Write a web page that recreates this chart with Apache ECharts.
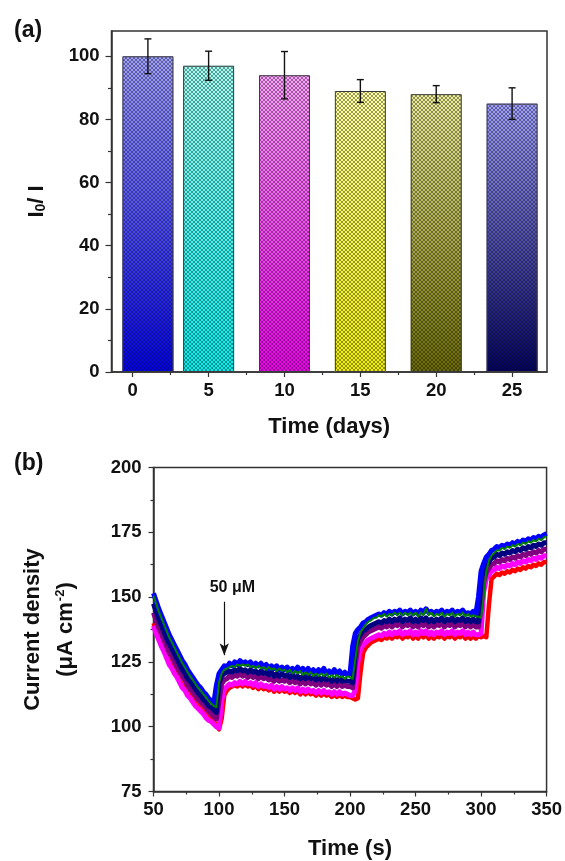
<!DOCTYPE html>
<html>
<head>
<meta charset="utf-8">
<script src="https://cdn.jsdelivr.net/npm/echarts@6/dist/echarts.min.js"></script>
<style>
  html, body { margin: 0; padding: 0; background: #fff; }
  #main { width: 565px; height: 861px; }
</style>
</head>
<body>
<div id="main"></div>
<script>
// ---- (a) 稳定性柱状图数据 ----
const dayPositions = [1, 5, 10, 15, 20, 25];
const ratioValues = [100, 97, 94, 89, 88, 85];
const ratioErrors = [5.5, 4.6, 7.5, 3.6, 2.7, 5.0];
const barTopColors = ['#a0a0ff', '#a0fff4', '#ffa0ff', '#ffffa0', '#eeee98', '#a0a0ff'];
const barBottomColors = ['#0000f0', '#00f0f0', '#f000f0', '#f0f000', '#6a6a00', '#000060'];
const dayTicks = [0, 5, 10, 15, 20, 25];
const dayMinorTicks = [2.5, 7.5, 12.5, 17.5, 22.5];
const ratioTicks = [0, 20, 40, 60, 80, 100];
const ratioMinorTicks = [10, 30, 50, 70, 90];

// ---- (b) 电流-时间曲线, 每 2 s 一个点, 50..350 s ----
const timeStart = 50;
const timeStep = 2;
const blueTrace = [
  151.5, 148.5, 145.5, 143, 140.5, 138, 135.5, 133.5, 131.5, 129.5, 127.5, 125.5, 124, 122, 120.5, 119, 117.5, 116, 115, 113.5, 112.5, 111, 110, 109, 116,
  120.5, 122, 123.5, 123, 124.5, 123.5, 125, 124, 125.5, 124.5, 125, 124, 125, 123.5, 124.5, 123.5, 124.5, 123, 124, 122.5, 123.5, 122.5, 123.5, 122, 123,
  122, 123, 121.5, 122.5, 121.5, 123, 121.5, 122.5, 121, 122.5, 121, 122, 120.5, 122, 121, 122.5, 120.5, 121.5, 120.5, 122, 120.5, 121.5, 120, 121, 120,
  120.5, 131, 136, 137.5, 138.5, 140, 140.5, 141.5, 142, 142.5, 143, 143.5, 143, 144, 143.5, 144.5, 143.5, 144.5, 144, 145, 143.5, 144.5, 144, 145, 143.5,
  144.5, 143.5, 145, 144, 145.5, 144, 144.5, 143.5, 144.5, 144, 145, 143.5, 144.5, 144, 145, 143.5, 144.5, 144, 145, 143.5, 144, 143.5, 144.5, 143.5,
  150, 160, 163, 165.5, 166.5, 168, 168.5, 169.5, 169, 170, 169.5, 170.5, 170, 171, 170.5, 171.5, 171, 172, 171.5, 172.5, 172, 173, 172.5, 173.5, 173, 174, 174.5
];
const greenTrace = [
  150.5, 147.5, 144.5, 142, 139.5, 137, 134.5, 132.5, 130.5, 128.5, 126.5, 124.5, 123, 121, 119.5, 118, 116.5, 115, 114, 112.5, 111.5, 110, 109, 108, 107.5,
  117, 120.5, 122, 122.5, 123, 123.5, 123, 124, 123.5, 124, 123.5, 124, 123, 123.5, 122.5, 123.5, 122.5, 123, 122, 123, 122, 122.5, 121.5, 122.5, 121.5,
  122, 121, 122, 120.5, 121.5, 120.5, 121.5, 120, 121, 120, 121, 119.5, 120.5, 119.5, 120.5, 119.5, 120.5, 119, 120, 119, 120, 119, 119.5, 118.5, 119.5,
  119, 118.5, 126, 133, 136.5, 138, 139.5, 140.5, 141, 142, 142, 143, 142.5, 143.5, 142.5, 143.5, 143, 144, 143, 144, 143, 144, 143, 144, 143,
  144, 142.5, 144, 143, 145.5, 143, 144, 142.5, 143.5, 143, 144, 142.5, 143.5, 143, 144, 142.5, 143.5, 143, 144, 142.5, 143.5, 142.5, 143, 142.5,
  142.5, 142, 150, 160, 164, 166, 167, 168, 168, 169, 168.5, 169.5, 169, 170, 169.5, 170.5, 170, 171, 170.5, 171.5, 171, 172, 171.5, 172.5, 172, 173, 173.5
];
const navyTrace = [
  147.5, 144.5, 141.5, 139, 136.5, 134, 132, 130, 128, 126, 124, 122, 120.5, 118.5, 117.5, 116, 114.5, 113, 112, 110.5, 109.5, 108, 107.5, 106.5, 105.5,
  117, 119.5, 120.5, 121, 121.5, 121, 122, 121.5, 122.5, 121.5, 122, 121, 122, 121, 121.5, 120.5, 121.5, 120.5, 121, 120, 121, 119.5, 120.5, 119.5, 120.5,
  119.5, 120, 119, 120, 119, 119.5, 118.5, 119.5, 118.5, 119.5, 118.5, 119, 118, 119, 118, 119, 118, 118.5, 117.5, 118.5, 117.5, 118.5, 117.5, 118, 117.5,
  117.5, 117, 130, 134, 135.5, 137, 137.5, 138.5, 139, 139.5, 140, 140.5, 140, 141, 140.5, 141.5, 140.5, 141.5, 141, 142, 140.5, 141.5, 141, 142, 140.5,
  141.5, 140.5, 142, 141, 142, 140.5, 141.5, 140.5, 141.5, 141, 142, 140.5, 141.5, 141, 142, 140.5, 141.5, 141, 142, 140.5, 141.5, 140.5, 141.5, 140.5,
  140.5, 157, 160, 162.5, 163.5, 165, 165.5, 166.5, 166, 167, 166.5, 167.5, 167, 168, 167.5, 168.5, 168, 169, 168.5, 169.5, 169, 170, 169.5, 170.5, 170, 171, 171
];
const purpleTrace = [
  144, 141, 138, 136, 133.5, 131, 128.5, 127, 125, 123, 121, 119.5, 118, 116, 114.5, 113.5, 112, 110.5, 109.5, 108.5, 107.5, 106, 105, 104, 103,
  110, 116.5, 118, 118.5, 119.5, 119, 120, 119.5, 120.5, 119.5, 120, 119, 120, 119, 119.5, 118.5, 119.5, 118.5, 119, 118, 118.5, 117.5, 118.5, 117.5, 118,
  117.5, 118, 117, 118, 117, 117.5, 116.5, 117.5, 116.5, 117.5, 116.5, 117, 116, 117, 116, 117, 116, 116.5, 115.5, 116.5, 115.5, 116.5, 115.5, 116, 115.5,
  115.5, 115, 124, 131, 133, 134.5, 135.5, 136.5, 137, 137.5, 138, 138.5, 138, 139, 138.5, 139.5, 138.5, 139.5, 139, 140, 138.5, 139.5, 139, 140, 138.5,
  139.5, 138.5, 140, 139, 140, 138.5, 139.5, 138.5, 139.5, 139, 140, 138.5, 139.5, 139, 140, 138.5, 139.5, 139, 140, 138.5, 139.5, 138.5, 139.5, 138.5,
  138.5, 146, 156, 159.5, 161, 162.5, 163, 164, 163.5, 164.5, 164, 165, 164.5, 165.5, 165, 166, 165.5, 166.5, 166, 167, 166.5, 167.5, 167, 168, 167.5, 168.5, 168.5
];
const magentaTrace = [
  139, 136, 133.5, 131, 129, 126.5, 124, 122.5, 120.5, 119, 117, 115, 114, 112, 111, 109.5, 108, 107, 106, 105, 103.5, 102.5, 102, 101, 100,
  99.5, 110, 114.5, 115.5, 116.5, 116, 117, 116.5, 117.5, 116.5, 117.5, 116.5, 117, 116, 117, 115.5, 116.5, 115.5, 116, 115, 116, 114.5, 115.5, 114.5, 115.5,
  114.5, 115, 114, 115, 114, 115, 113.5, 114.5, 113.5, 114.5, 113.5, 114, 113, 114, 113, 114, 113, 113.5, 112.5, 113.5, 112.5, 113.5, 112.5, 113, 112.5,
  112, 112, 114, 125, 130, 131.5, 132.5, 133.5, 134, 134.5, 135, 135.5, 135, 136, 135.5, 136.5, 135.5, 136.5, 136, 137, 135.5, 136.5, 136, 137, 135.5,
  136.5, 135.5, 137, 136, 137, 135.5, 136.5, 135.5, 136.5, 136, 137, 135.5, 136.5, 136, 137, 135.5, 136.5, 136, 137, 135.5, 136.5, 135.5, 136.5, 135.5,
  135.5, 136, 152, 157, 158.5, 160, 160.5, 161.5, 161, 162, 161.5, 162.5, 162, 163, 162.5, 163.5, 163, 164, 163.5, 164.5, 164, 165, 164.5, 165.5, 165, 166, 166
];
const redTrace = [
  140, 137, 134.5, 132, 130, 127.5, 125, 123.5, 121.5, 120, 118, 116, 115, 113, 112, 110.5, 109, 108, 107, 106, 104.5, 103.5, 103, 102, 100.5,
  99, 103, 112, 114, 115, 115.5, 116, 115.5, 116.5, 115.5, 116.5, 115.5, 116, 115, 116, 114.5, 115.5, 114.5, 115, 114, 115, 113.5, 114.5, 113.5, 114.5,
  113.5, 114, 113, 114, 113, 114, 112.5, 113.5, 112.5, 113.5, 112.5, 113, 112, 113, 112, 113, 112, 112.5, 111.5, 112.5, 111.5, 112.5, 111.5, 112, 111.5,
  111.5, 111, 110.5, 111, 121, 128.5, 130.5, 131.5, 132.5, 133, 133.5, 134, 133.5, 134.5, 134, 135, 134, 135, 134.5, 135.5, 134, 135, 134.5, 135.5, 134,
  135, 134, 135.5, 134.5, 135.5, 134, 135, 134, 135, 134.5, 135.5, 134, 135, 134.5, 135.5, 134, 135, 134.5, 135.5, 134, 135, 134, 135, 134,
  135, 134.5, 135, 134.5, 147, 157, 158, 159, 158.5, 159.5, 159, 160, 159.5, 160.5, 160, 161, 160.5, 161.5, 161, 162, 161.5, 162.5, 162, 163, 162.5, 163.5, 163.5
];
// 绘制顺序: 先红后绿
const traces = [
  { data: redTrace, color: '#ff0000', width: 4.5 },
  { data: magentaTrace, color: '#ff00ff', width: 5 },
  { data: purpleTrace, color: '#800080', width: 5 },
  { data: navyTrace, color: '#000080', width: 5 },
  { data: blueTrace, color: '#0000ff', width: 5 },
  { data: greenTrace, color: '#008000', width: 2 },
];

const FONT = 'Liberation Sans, Arial, sans-serif';
const INK = '#111';
const FRAME = '#333';
const labelStyle = { fontFamily: FONT, fontWeight: 'bold', fontSize: 18.5, color: INK };
const titleStyle = { fontFamily: FONT, fontWeight: 'bold', fontSize: 22, color: INK };

// 交叉网纹贴图
function hatchPattern() {
  const c = document.createElement('canvas');
  c.width = 4;
  c.height = 4;
  const g = c.getContext('2d');
  g.fillStyle = 'rgba(15,15,15,0.42)';
  for (let i = 0; i < 4; i++) {
    g.fillRect(i, i, 1, 1);
    g.fillRect(3 - i, i, 1, 1);
  }
  return c;
}

function gradient(top, bottom) {
  return new echarts.graphic.LinearGradient(0, 0, 0, 1, [
    { offset: 0, color: top },
    { offset: 1, color: bottom },
  ]);
}

const chart = echarts.init(document.getElementById('main'), null, { renderer: 'canvas' });

const barData = dayPositions.map((d, i) => ({
  value: [d, ratioValues[i]],
  itemStyle: { color: gradient(barTopColors[i], barBottomColors[i]) },
}));
const hatchData = dayPositions.map((d, i) => [d, ratioValues[i]]);
const errorData = dayPositions.map((d, i) => [d, ratioValues[i], ratioErrors[i]]);

const lineSeries = traces.map((tr) => ({
  type: 'line',
  xAxisIndex: 1,
  yAxisIndex: 1,
  data: tr.data.map((v, i) => [timeStart + i * timeStep, v]),
  showSymbol: false,
  symbol: 'none',
  sampling: null,
  lineStyle: { color: tr.color, width: tr.width, join: 'round' },
  itemStyle: { color: tr.color },
  silent: true,
}));

// 箭头和 "50 μM" 标注
lineSeries[lineSeries.length - 1].markLine = {
  silent: true,
  symbol: ['none', 'arrow'],
  symbolSize: [7, 12],
  lineStyle: { color: INK, width: 1.2, type: 'solid' },
  label: { show: false },
  data: [[{ coord: [104, 148.2] }, { coord: [104, 127.6] }]],
};
lineSeries[lineSeries.length - 1].markPoint = {
  silent: true,
  symbol: 'circle',
  symbolSize: 0,
  label: { show: true, formatter: '50 μM', fontFamily: FONT, fontWeight: 'bold', fontSize: 16, color: INK },
  data: [{ coord: [110.2, 153.5] }],
};

const option = {
  animation: false,
  backgroundColor: '#fff',
  grid: [
    { left: 111.5, top: 31, width: 435.5, height: 341, show: true, borderColor: FRAME, borderWidth: 1.5 },
    { left: 153.5, top: 467.5, width: 396, height: 324, show: true, borderColor: FRAME, borderWidth: 1.5 },
  ],
  xAxis: [
    {
      type: 'value', gridIndex: 0, min: -1.4, max: 27.3,
      axisLine: { show: true, onZero: false, lineStyle: { color: FRAME, width: 1.5 } },
      axisTick: { show: true, length: 5, customValues: dayTicks, lineStyle: { color: FRAME, width: 1.2 } },
      axisLabel: { ...labelStyle, margin: 9, customValues: dayTicks },
      splitLine: { show: false },
      name: 'Time (days)', nameLocation: 'middle', nameGap: 44, nameTextStyle: titleStyle,
    },
    {
      type: 'value', gridIndex: 1, min: 50, max: 350, interval: 50,
      axisLine: { show: true, onZero: false, lineStyle: { color: FRAME, width: 1.5 } },
      axisTick: { show: true, length: 5, lineStyle: { color: FRAME, width: 1.2 } },
      minorTick: { show: true, splitNumber: 2, length: 3, lineStyle: { color: FRAME, width: 1.2 } },
      axisLabel: { ...labelStyle, margin: 9, showMaxLabel: true },
      splitLine: { show: false },
      name: 'Time (s)', nameLocation: 'middle', nameGap: 46, nameTextStyle: titleStyle,
    },
    {
      type: 'value', gridIndex: 0, min: -1.4, max: 27.3, position: 'bottom',
      axisLine: { show: false, onZero: false },
      axisTick: { show: true, length: 3, customValues: dayMinorTicks, lineStyle: { color: FRAME, width: 1.2 } },
      axisLabel: { show: false },
      splitLine: { show: false },
    },
  ],
  yAxis: [
    {
      type: 'value', gridIndex: 0, min: 0, max: 108,
      axisLine: { show: true, onZero: false, lineStyle: { color: FRAME, width: 1.5 } },
      axisTick: { show: true, length: 6, customValues: ratioTicks, lineStyle: { color: FRAME, width: 1.2 } },
      axisLabel: { ...labelStyle, margin: 12, customValues: ratioTicks },
      splitLine: { show: false },
      name: '{t|I}{sub|0}{t|/ I}', nameLocation: 'middle', nameGap: 58,
      nameTextStyle: {
        rich: {
          t: { ...titleStyle, lineHeight: 22, verticalAlign: 'top', padding: [0, 0, 10, 0] },
          sub: { ...titleStyle, fontSize: 14, lineHeight: 14, verticalAlign: 'bottom' },
        },
      },
    },
    {
      type: 'value', gridIndex: 1, min: 75, max: 200, interval: 25,
      axisLine: { show: true, onZero: false, lineStyle: { color: FRAME, width: 1.5 } },
      axisTick: { show: true, length: 5, lineStyle: { color: FRAME, width: 1.2 } },
      minorTick: { show: true, splitNumber: 2, length: 3, lineStyle: { color: FRAME, width: 1.2 } },
      axisLabel: { ...labelStyle, margin: 12 },
      splitLine: { show: false },
      name: '{t|Current density}\n{t|(μA cm}{sup|-2}{t|)}', nameLocation: 'middle', nameGap: 71,
      nameTextStyle: {
        rich: {
          t: { ...titleStyle, lineHeight: 33 },
          sup: { ...titleStyle, fontSize: 13, lineHeight: 13, verticalAlign: 'top', padding: [4, 0, 0, 1] },
        },
      },
    },
    {
      type: 'value', gridIndex: 0, min: 0, max: 108, position: 'left',
      axisLine: { show: false, onZero: false },
      axisTick: { show: true, length: 3.5, customValues: ratioMinorTicks, lineStyle: { color: FRAME, width: 1.2 } },
      axisLabel: { show: false },
      splitLine: { show: false },
    },
  ],
  graphic: [
    { type: 'text', left: 14, top: 19, style: { text: '(a)', font: 'bold 23px ' + FONT, fill: INK } },
    { type: 'text', left: 14, top: 452, style: { text: '(b)', font: 'bold 23px ' + FONT, fill: INK } },
  ],
  series: [
    {
      type: 'bar', xAxisIndex: 0, yAxisIndex: 0, barWidth: 51,
      data: barData, silent: true,
    },
    {
      type: 'bar', xAxisIndex: 0, yAxisIndex: 0, barWidth: 51, barGap: '-100%',
      data: hatchData, silent: true,
      itemStyle: { color: { image: hatchPattern(), repeat: 'repeat' }, borderColor: '#3a3a3a', borderWidth: 1 },
    },
    {
      type: 'custom', xAxisIndex: 0, yAxisIndex: 0, silent: true, z: 5,
      data: errorData,
      encode: { x: 0, y: 1 },
      renderItem: function (params, api) {
        const x = api.value(0);
        const y = api.value(1);
        const e = api.value(2);
        const hi = api.coord([x, y + e]);
        const lo = api.coord([x, y - e]);
        const w = 3.5;
        const st = { stroke: INK, lineWidth: 1.4 };
        return {
          type: 'group',
          children: [
            { type: 'line', shape: { x1: hi[0], y1: hi[1], x2: lo[0], y2: lo[1] }, style: st },
            { type: 'line', shape: { x1: hi[0] - w, y1: hi[1], x2: hi[0] + w, y2: hi[1] }, style: st },
            { type: 'line', shape: { x1: lo[0] - w, y1: lo[1], x2: lo[0] + w, y2: lo[1] }, style: st },
          ],
        };
      },
    },
    ...lineSeries,
  ],
};

chart.setOption(option);
</script>
</body>
</html>
